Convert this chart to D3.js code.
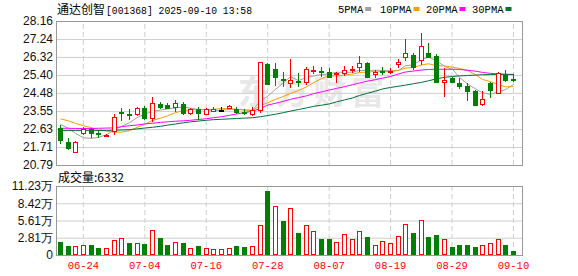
<!DOCTYPE html>
<html>
<head>
<meta charset="utf-8">
<title>通达创智 日K</title>
<style>
  body {margin: 0; background: #fff;}
  svg {display: block;}
  .num {font-family: "Liberation Sans", Arial, sans-serif; font-size: 12px; fill: #111;}
  .mono {font-family: "Liberation Mono", "DejaVu Sans Mono", monospace;}
  .cjk {font-family: "Noto Sans CJK SC", sans-serif;}
</style>
</head>
<body>
<div id="chart"></div>
<script src="https://cdn.jsdelivr.net/npm/d3@7/dist/d3.min.js"></script>
<script>
// trading days 2025-06-19 .. 2025-09-10
var dates = ["06-19","06-20","06-23","06-24","06-25","06-26","06-27","06-30",
  "07-01","07-02","07-03","07-04","07-07","07-08","07-09","07-10","07-11","07-14","07-15","07-16",
  "07-17","07-18","07-21","07-22","07-23","07-24","07-25","07-28","07-29","07-30","07-31",
  "08-01","08-04","08-05","08-06","08-07","08-08","08-11","08-12","08-13","08-14","08-15",
  "08-18","08-19","08-20","08-21","08-22","08-25","08-26","08-27","08-28","08-29",
  "09-01","09-02","09-03","09-04","09-05","09-08","09-09","09-10"];

var openP = [22.70,21.98,21.47,22.41,22.63,22.44,22.30,22.55,23.50,23.42,23.39,23.69,23.18,23.91,23.86,
  23.74,23.91,23.44,23.64,23.40,23.55,23.60,23.69,23.66,23.52,23.40,23.61,25.96,25.70,25.18,
  25.00,25.11,25.05,25.63,25.60,25.57,25.44,25.48,25.66,25.79,26.03,25.43,25.62,25.58,25.94,
  26.33,26.42,26.16,26.51,26.37,25.02,25.26,25.00,24.83,24.58,23.90,24.97,24.49,25.38,25.17];
var highP = [22.84,22.19,22.02,22.75,22.70,22.58,22.40,23.39,23.73,23.66,23.76,23.83,24.29,24.03,23.97,
  24.12,24.03,23.70,23.74,23.70,23.74,23.74,23.85,23.77,23.64,23.74,26.05,26.00,25.99,25.57,
  26.20,25.48,25.79,25.86,25.79,25.74,25.53,25.87,25.86,26.37,26.08,25.65,25.79,25.74,26.20,
  27.22,26.54,27.53,27.02,26.46,25.74,25.31,25.23,24.97,24.63,24.58,25.05,25.53,25.65,25.43];
var lowP = [21.85,21.56,21.42,22.33,22.19,22.16,22.26,22.33,23.03,23.10,23.31,23.09,23.01,23.66,23.64,
  23.52,23.35,23.36,23.09,23.36,23.49,23.50,23.66,23.40,23.35,23.30,23.44,24.88,24.83,24.80,
  24.72,24.77,24.88,25.45,25.31,25.23,24.97,25.35,25.48,25.57,25.27,25.23,25.40,25.43,25.74,
  26.13,25.65,25.91,26.30,25.00,24.29,24.97,24.68,24.08,23.81,23.81,24.20,24.44,25.05,25.05];
var closeP = [22.07,21.68,21.95,22.62,22.44,22.36,22.35,23.23,23.45,23.38,23.72,23.18,23.95,23.77,23.69,
  23.95,23.44,23.64,23.44,23.64,23.67,23.60,23.81,23.50,23.44,23.60,26.05,24.92,25.31,25.13,
  25.14,25.06,25.69,25.66,25.55,25.31,25.49,25.65,25.69,25.99,25.31,25.57,25.57,25.62,26.08,
  26.51,25.82,26.88,26.33,25.05,25.14,25.02,24.85,24.58,23.86,24.15,24.63,25.48,25.14,25.13];

// volume in 万手, and whether the bar is red (1) or green (0)
var volume = [2.17,1.46,1.46,1.63,1.63,1.19,1.19,2.44,2.72,1.90,1.90,1.79,4.07,2.77,1.63,
  2.06,1.90,1.09,1.46,1.09,0.93,0.93,1.09,1.46,1.30,1.46,4.88,10.47,7.98,5.59,
  7.59,3.63,4.88,3.96,2.60,2.60,2.12,3.42,2.60,3.96,2.93,1.63,2.28,1.95,3.04,
  4.99,3.58,5.64,2.93,3.26,2.55,1.30,1.63,1.63,1.30,1.57,1.90,2.55,1.63,0.6332];
var volUp = [0,0,1,1,0,0,1,1,1,0,1,0,1,0,0,1,0,1,0,1,1,1,1,0,0,1,1,0,1,0,
  1,0,1,1,0,0,1,1,1,1,0,1,1,1,1,1,0,1,0,0,1,0,0,0,0,1,1,1,0,0];

var ma5 = [22.87,22.67,22.41,22.18,22.15,22.21,22.34,22.60,22.77,22.95,23.23,23.39,23.54,23.60,23.66,
  23.71,23.76,23.70,23.63,23.62,23.57,23.60,23.63,23.64,23.60,23.59,24.08,24.30,24.66,25.00,
  25.31,25.11,25.27,25.34,25.42,25.45,25.54,25.53,25.54,25.63,25.63,25.64,25.63,25.61,25.63,
  25.87,25.92,26.18,26.32,26.12,25.84,25.68,25.28,24.93,24.69,24.49,24.41,24.54,24.65,24.91];
var ma10 = [23.15,23.05,22.92,22.80,22.70,22.60,22.52,22.47,22.47,22.55,22.72,22.87,23.07,23.19,23.31,
  23.47,23.58,23.62,23.62,23.64,23.64,23.68,23.67,23.64,23.61,23.58,23.84,23.97,24.15,24.30,
  24.45,24.60,24.79,25.00,25.21,25.38,25.33,25.40,25.44,25.53,25.54,25.59,25.58,25.58,25.63,
  25.75,25.78,25.91,25.97,25.88,25.86,25.80,25.73,25.63,25.41,25.17,25.05,24.91,24.79,24.80];
var ma20 = [22.67,22.67,22.66,22.66,22.66,22.67,22.68,22.69,22.75,22.80,22.84,22.89,22.93,22.97,23.00,
  23.03,23.05,23.08,23.12,23.16,23.21,23.26,23.33,23.40,23.47,23.55,23.68,23.85,23.95,24.05,
  24.15,24.24,24.33,24.44,24.53,24.63,24.71,24.80,24.90,24.99,25.08,25.16,25.24,25.32,25.45,
  25.55,25.60,25.65,25.68,25.69,25.69,25.69,25.68,25.64,25.59,25.53,25.48,25.45,25.43,25.41];
var ma30 = [22.55,22.55,22.55,22.55,22.55,22.55,22.56,22.57,22.58,22.60,22.64,22.68,22.72,22.77,22.83,
  22.89,22.95,23.00,23.04,23.08,23.11,23.13,23.15,23.17,23.19,23.21,23.26,23.32,23.39,23.47,
  23.55,23.63,23.71,23.79,23.85,23.92,24.02,24.12,24.22,24.35,24.46,24.57,24.68,24.76,24.82,
  24.88,24.95,25.02,25.10,25.20,25.28,25.32,25.35,25.37,25.39,25.41,25.42,25.43,25.43,25.43];

var priceTicks = ["28.16","27.24","26.32","25.40","24.48","23.55","22.63","21.71","20.79"];
var volTicks = [11.23, 8.42, 5.61, 2.81, 0];
var volTickLabels = ["11.23万","8.42万","5.61万","2.81万","0"];
var dateTicks = ["06-24","07-04","07-16","07-28","08-07","08-19","08-29","09-10"];

var maNames = ["5PMA","10PMA","20PMA","30PMA"];
var maColors = ["#a0a0a0","#f0a000","#ff00ff","#00703a"];
var maSeries = [ma5, ma10, ma20, ma30];

var W = 578, H = 276;
var L = 56, R = 522, pTop = 21, pBot = 165, vTop = 186, vBot = 255;
var RED = "#ff0000", GREEN = "#008000";

var svg = d3.select("#chart").append("svg").attr("width", W).attr("height", H);

var x = d3.scaleBand().domain(dates).range([56.5, 517.3]);
var yP = d3.scaleLinear().domain([20.79, 28.16]).range([pBot, pTop]);
var yV = d3.scaleLinear().domain([0, 11.23]).range([vBot, vTop]);

function cx(i) { return Math.floor(x(dates[i]) + x.bandwidth() / 2) + 0.5; }
function px(v) { return Math.round(v) + 0.5; }

// watermark
svg.append("text").attr("class", "cjk")
  .attr("x", 238).attr("y", 104)
  .attr("font-size", 33).attr("font-weight", "bold")
  .attr("fill", "#e8e8e8").attr("textLength", 146)
  .text("东方财富");

// horizontal grid + price labels
var gp = svg.append("g").attr("transform", "translate(" + L + ",0)")
  .call(d3.axisLeft(yP).tickValues(priceTicks.map(Number))
    .tickFormat(function(d, i) { return priceTicks[i]; })
    .tickSize(-(R - L)).tickPadding(3));
var gv = svg.append("g").attr("transform", "translate(" + L + ",0)")
  .call(d3.axisLeft(yV).tickValues(volTicks)
    .tickFormat(function(d, i) { return volTickLabels[i]; })
    .tickSize(-(R - L)).tickPadding(3));
[gp, gv].forEach(function(g) {
  g.select(".domain").remove();
  g.selectAll(".tick line").attr("stroke", "#cfcfcf");
  g.selectAll(".tick text").attr("class", "num").attr("font-family", null).attr("font-size", null);
});

// vertical dashed grid + date labels
var gx1 = svg.append("g").attr("transform", "translate(0," + pBot + ")")
  .call(d3.axisBottom(x).tickValues(dateTicks).tickSize(-(pBot - pTop)).tickFormat(""));
var gx2 = svg.append("g").attr("transform", "translate(0," + vBot + ")")
  .call(d3.axisBottom(x).tickValues(dateTicks).tickSize(-(vBot - vTop)).tickPadding(7));
[gx1, gx2].forEach(function(g) {
  g.select(".domain").remove();
  g.selectAll(".tick line").attr("stroke", "#cfcfcf").attr("stroke-dasharray", "5,3");
});
gx2.selectAll(".tick text").attr("class", "mono").attr("font-family", null)
  .attr("font-size", 10.5).attr("fill", RED);

// panel borders
svg.append("rect").attr("x", L + 0.5).attr("y", pTop + 0.5)
  .attr("width", R - L).attr("height", pBot - pTop)
  .attr("fill", "none").attr("stroke", "#999");
svg.append("rect").attr("x", L + 0.5).attr("y", vTop + 0.5)
  .attr("width", R - L).attr("height", vBot - vTop)
  .attr("fill", "none").attr("stroke", "#999");

var idx = d3.range(dates.length);

function candleColor(i) {
  if (closeP[i] > openP[i]) return RED;
  if (closeP[i] < openP[i]) return GREEN;
  return "#000";
}

// moving averages
var line = d3.line().x(function(d, i) { return cx(i); }).y(function(d) { return yP(d); });
svg.append("g").selectAll("path").data(maSeries).join("path")
  .attr("d", line).attr("fill", "none")
  .attr("stroke", function(d, i) { return maColors[i]; })
  .attr("stroke-width", 1);

// candles
var cg = svg.append("g").selectAll("g").data(idx).join("g");
cg.append("line")
  .attr("x1", cx).attr("x2", cx)
  .attr("y1", function(i) { return Math.round(yP(highP[i])); })
  .attr("y2", function(i) { return Math.round(yP(lowP[i])); })
  .attr("stroke", candleColor);
cg.append("rect")
  .attr("x", function(i) { return cx(i) - 2; })
  .attr("y", function(i) { return px(yP(Math.max(openP[i], closeP[i]))); })
  .attr("width", 4)
  .attr("height", function(i) {
    return Math.max(1, Math.round(yP(Math.min(openP[i], closeP[i]))) - Math.round(yP(Math.max(openP[i], closeP[i]))));
  })
  .attr("fill", function(i) { return closeP[i] > openP[i] ? "#fff" : candleColor(i); })
  .attr("stroke", candleColor);

// volume bars
svg.append("g").selectAll("rect").data(idx).join("rect")
  .attr("x", function(i) { return cx(i) - 2; })
  .attr("y", function(i) { return px(yV(volume[i])); })
  .attr("width", 4)
  .attr("height", function(i) { return Math.max(1, vBot - Math.round(yV(volume[i])) - 1); })
  .attr("fill", function(i) { return volUp[i] ? "#fff" : GREEN; })
  .attr("stroke", function(i) { return volUp[i] ? RED : GREEN; });

// title
var title = svg.append("text").attr("x", 57).attr("y", 14).attr("font-size", 12).attr("fill", "#000");
title.append("tspan").attr("class", "cjk").text("通达创智");
title.append("tspan").attr("class", "mono").attr("font-size", 11).attr("dx", 1)
  .attr("textLength", 146).attr("lengthAdjust", "spacingAndGlyphs")
  .text("[001368] 2025-09-10 13:58");

// legend
var lx = [338, 380, 426, 472];
var lg = svg.append("g").selectAll("g").data(maNames).join("g")
  .attr("transform", function(d, i) { return "translate(" + lx[i] + ",0)"; });
lg.append("text").attr("class", "mono").attr("font-size", 10.5)
  .attr("y", 13).attr("fill", "#000").text(function(d) { return d; });
lg.append("rect")
  .attr("x", function(d) { return d.length * 6.3 + 2; })
  .attr("y", 7).attr("width", 6).attr("height", 4)
  .attr("fill", function(d, i) { return maColors[i]; });

// volume caption
svg.append("text").attr("class", "cjk").attr("x", 58).attr("y", 182)
  .attr("font-size", 12).attr("fill", "#000")
  .text("成交量:" + Math.round(volume[volume.length - 1] * 10000));
</script>
</body>
</html>
